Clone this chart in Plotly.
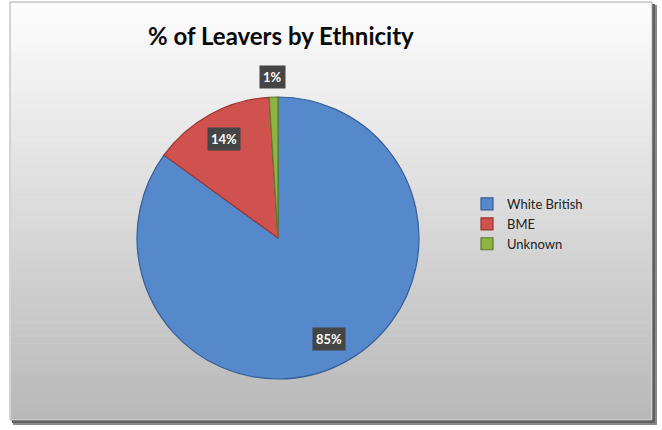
import math
import plotly.graph_objects as go

# Share of leavers by ethnic group (percent)
groups = ["White British", "BME", "Unknown"]
shares = [85, 14, 1]
slice_colors = ["#5688cc", "#cf524e", "#8db443"]
edge_colors = ["#355f97", "#9a3532", "#5e7d27"]

W, H = 662, 430
CX, CY, R = 278, 238, 141  # pie centre and radius in pixels

fig = go.Figure()

fig.add_trace(go.Pie(
    labels=groups,
    values=shares,
    sort=False,
    direction="clockwise",
    rotation=0,
    textinfo="none",
    hoverinfo="label+percent",
    marker=dict(colors=slice_colors, line=dict(color=edge_colors, width=1.2)),
    domain=dict(x=[(CX - R) / W, (CX + R) / W], y=[1 - (CY + R) / H, 1 - (CY - R) / H]),
    showlegend=True,
))

# Percentage labels in dark boxes, placed at each slice's mid-angle
total = sum(shares)
cum = 0
annotations = []
for name, v in zip(groups, shares):
    theta = 2 * math.pi * (cum + v / 2) / total
    cum += v
    r = R * 0.8 if v / total >= 0.05 else R + 20
    px = CX + r * math.sin(theta)
    py = CY - r * math.cos(theta)
    annotations.append(dict(
        x=px / W, y=1 - py / H, xref="paper", yref="paper",
        xanchor="center", yanchor="middle",
        text=f"<b>{round(100 * v / total)}%</b>", showarrow=False,
        font=dict(family="Lato", size=13, color="white"),
        bgcolor="#454545", borderpad=3,
    ))

annotations.append(dict(
    x=281 / W, y=1 - 36 / H, xref="paper", yref="paper",
    xanchor="center", yanchor="middle",
    text="<b>% of Leavers by Ethnicity</b>", showarrow=False,
    font=dict(family="Lato", size=24, color="#0a0a0a"),
))

# Chart frame: drop shadow, border and a top-to-bottom grey gradient
shapes = []
def rect(x0, y0, x1, y1, **kw):
    return dict(type="rect", xref="paper", yref="paper", layer="below",
                x0=x0 / W, x1=x1 / W, y0=1 - y1 / H, y1=1 - y0 / H, **kw)

shapes.append(rect(13, 5, 657, 425, fillcolor="#8a8a8a", line=dict(width=0)))
shapes.append(rect(12, 4, 655, 423, fillcolor="#5f5f5f", line=dict(width=0)))
shapes.append(rect(10, 2, 652, 420, fillcolor="#ffffff", line=dict(color="#a8a8a8", width=1)))
top, bot = 3.0, 419.5
n = 60
c0, c1 = 253, 184
for i in range(n):
    y0 = top + (bot - top) * i / n
    y1 = top + (bot - top) * (i + 1) / n + 0.5
    c = round(c0 + (c1 - c0) * (i + 0.5) / n)
    shapes.append(rect(11, y0, 651, min(y1, bot), fillcolor=f"rgb({c},{c},{c})", line=dict(width=0)))

fig.update_layout(
    width=W, height=H,
    margin=dict(l=0, r=0, t=0, b=0),
    paper_bgcolor="white",
    plot_bgcolor="rgba(0,0,0,0)",
    font=dict(family="Lato", color="#222222"),
    showlegend=True,
    legend=dict(
        x=467 / W, y=1 - 224 / H, xanchor="left", yanchor="middle",
        bgcolor="rgba(0,0,0,0)", font=dict(family="Lato", size=13, color="#222222"),
        itemwidth=30, traceorder="normal",
    ),
    shapes=shapes,
    annotations=annotations,
)

fig.write_html("out.html")
